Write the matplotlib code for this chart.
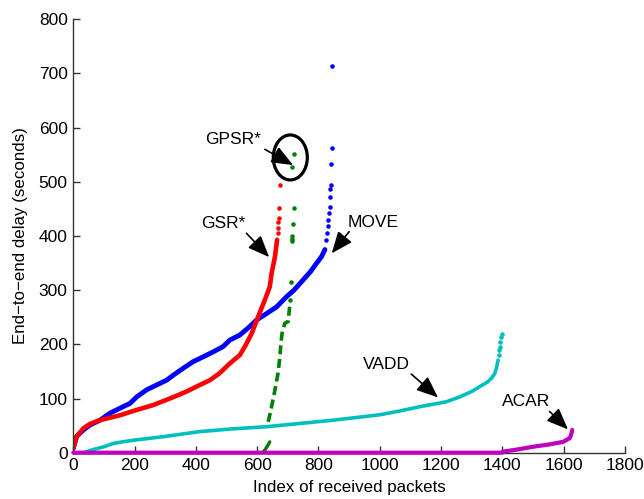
import matplotlib
matplotlib.use("Agg")
import matplotlib.pyplot as plt
from matplotlib.patches import Ellipse

plt.rcParams['font.family'] = ['Liberation Sans', 'DejaVu Sans']

# ---- data ----
move_idx = [0, 11, 33, 54, 87, 120, 152, 185, 207, 239, 272, 305, 326, 359, 391, 424,
            456, 489, 511, 543, 576, 598, 631, 663, 696, 720, 750, 775, 794, 810, 821]
move_delay = [8, 30, 42, 51, 60, 73, 82, 91, 103, 116, 125, 134, 143, 156, 168, 177,
              186, 196, 208, 217, 233, 245, 257, 269, 288, 300, 319, 335, 350, 362, 375]
move_sparse_idx = [826, 828, 830, 832, 834, 836, 838, 839, 840, 842, 843, 845]
move_sparse_delay = [393, 405, 418, 430, 442, 454, 472, 486, 494, 533, 562, 714]

gsr_idx = [0, 11, 33, 54, 87, 152, 207, 261, 315, 370, 402, 446, 478, 511, 543, 560,
           582, 603, 625, 641, 647, 658, 665]
gsr_delay = [8, 30, 45, 53, 60, 69, 79, 88, 100, 113, 122, 134, 147, 165, 180, 196,
             220, 251, 282, 306, 331, 362, 393]
gsr_sparse_idx = [667, 668, 669, 671, 672, 675]
gsr_sparse_delay = [405, 414, 425, 433, 451, 494]

gpsr_low_idx = [620, 625, 633, 641]
gpsr_low_delay = [2, 5, 12, 20]
gpsr_idx = [636, 647, 658, 668, 674, 677, 681, 690, 701, 707]
gpsr_delay = [57, 85, 116, 147, 177, 199, 220, 239, 242, 276]
gpsr_sparse_idx = [708, 710, 712, 712, 713, 717, 720, 714, 720]
gpsr_sparse_delay = [282, 316, 390, 395, 400, 423, 451, 528, 551]

vadd_idx = [33, 60, 100, 130, 160, 196, 300, 413, 520, 631, 740, 848, 1000, 1065, 1140,
            1217, 1261, 1300, 1326, 1350, 1364, 1375, 1380, 1386]
vadd_delay = [0, 5, 11, 17, 20, 23, 30, 39, 44, 48, 54, 60, 70, 77, 86,
              94, 103, 113, 122, 130, 137, 146, 155, 171]
vadd_sparse_idx = [1388, 1390, 1391, 1393, 1397, 1400]
vadd_sparse_delay = [180, 190, 196, 205, 214, 220]

acar_idx = [0, 1400, 1402, 1450, 1500, 1550, 1598, 1620, 1625, 1628]
acar_delay = [0, 0, 2, 6, 11, 15, 20, 27, 35, 42]

x_ticks = [0, 200, 400, 600, 800, 1000, 1200, 1400, 1600, 1800]
y_ticks = [0, 100, 200, 300, 400, 500, 600, 700, 800]

# annotation labels: (text, text position, arrow tail, arrow head) in data units
labels = ['GPSR*', 'GSR*', 'MOVE', 'VADD', 'ACAR']
label_pos = [(522, 578), (489, 423), (978, 425), (1023, 163), (1478, 94)]
arrow_tail = [(625, 560), (565, 405), (900, 408), (1103, 145), (1554, 76)]
arrow_head = [(717, 531), (639, 361), (843, 368), (1190, 102), (1614, 43)]

BLUE = '#0000FF'
RED = '#FF0000'
GREEN = '#008000'
CYAN = '#00BFBF'
MAGENTA = '#BF00BF'

fig = plt.figure(figsize=(6.44, 4.99), dpi=100)
ax = fig.add_axes([0.1138, 0.0928, 0.8567, 0.8685])

dot = 4.5
ax.plot(vadd_idx, vadd_delay, '-', color=CYAN, lw=2.6, solid_capstyle='round')
ax.plot(vadd_sparse_idx, vadd_sparse_delay, '.', color=CYAN, ms=dot, ls='none')

ax.plot(gpsr_low_idx, gpsr_low_delay, '-', color=GREEN, lw=2.4, solid_capstyle='round')
ax.plot(gpsr_idx, gpsr_delay, color=GREEN, lw=2.6, ls=(0, (2.5, 1.3)))
ax.plot(gpsr_sparse_idx, gpsr_sparse_delay, '.', color=GREEN, ms=dot, ls='none')

ax.plot(move_idx, move_delay, '-', color=BLUE, lw=3.5, solid_capstyle='round')
ax.plot(move_sparse_idx, move_sparse_delay, '.', color=BLUE, ms=dot, ls='none')

ax.plot(gsr_idx, gsr_delay, '-', color=RED, lw=3.3, solid_capstyle='round')
ax.plot(gsr_sparse_idx, gsr_sparse_delay, '.', color=RED, ms=dot, ls='none')

ax.plot(acar_idx, acar_delay, '-', color=MAGENTA, lw=3.0, solid_capstyle='round',
        clip_on=False, zorder=5)

ax.set_xlim(0, 1800)
ax.set_ylim(0, 800)
ax.set_xticks(x_ticks)
ax.set_yticks(y_ticks)
for s in ['top', 'right']:
    ax.spines[s].set_visible(False)
for s in ['left', 'bottom']:
    ax.spines[s].set_color('#333333')
    ax.spines[s].set_linewidth(1.0)
ax.tick_params(direction='in', length=5, width=1.0, color='#333333', labelsize=12.5, pad=4)

ax.set_xlabel('Index of received packets', fontsize=12.2, labelpad=5)
ax.set_ylabel('End\u2212to\u2212end delay (seconds)', fontsize=12.2, labelpad=8)

fs = 12.5
for txt, pos, tail, head in zip(labels, label_pos, arrow_tail, arrow_head):
    ax.text(pos[0], pos[1], txt, fontsize=fs, ha='center', va='center')
    ax.annotate('', xy=head, xytext=tail,
                arrowprops=dict(arrowstyle='-|>,head_length=1.1,head_width=0.45',
                                color='black', lw=1.2, shrinkA=0, shrinkB=0,
                                mutation_scale=12))

ax.add_patch(Ellipse((708, 545), width=111, height=83, fill=False, ec='black', lw=2.3))

fig.savefig('out.png', dpi=100)
